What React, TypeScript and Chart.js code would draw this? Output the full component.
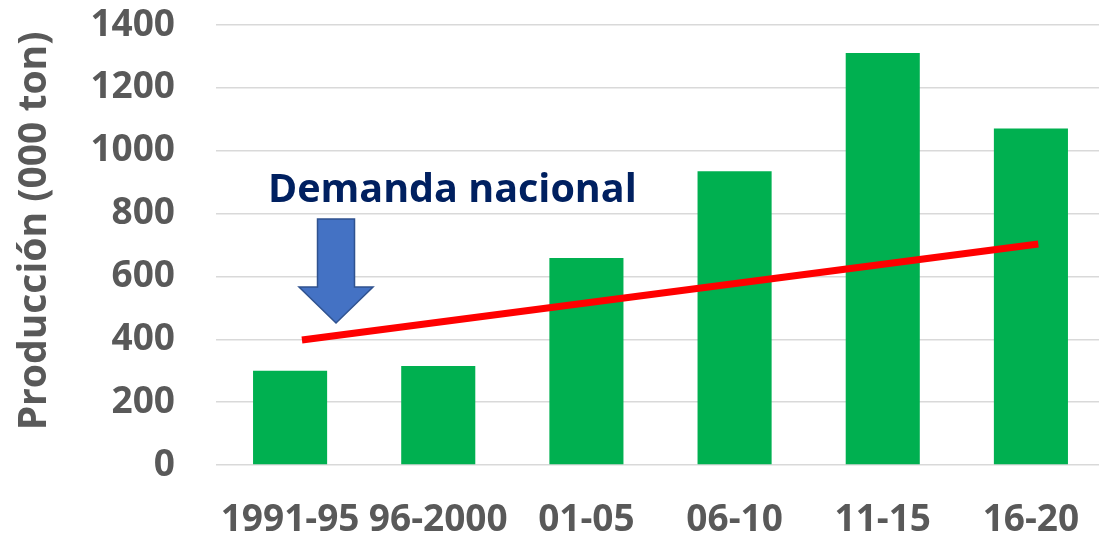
import { useEffect, useRef } from "react";
import { Chart, registerables } from "chart.js";

Chart.register(...registerables);

// ---- data ----
const categories = ["1991-95", "96-2000", "01-05", "06-10", "11-15", "16-20"];
const produccion = [300, 315, 659, 935, 1311, 1071];
// "Demanda nacional" trend line: x in category-index units, y in 000 ton
const demandaX = [0.08, 5.05];
const demandaY = [398, 703];
const yMin = 0;
const yMax = 1400;
const yStep = 200;
const yTitle = "Producción (000 ton)";
const annotationText = "Demanda nacional";
const annotationPos = { x: 1.095, y: 837 };
const arrowPos = { x: 0.31, top: 783, neck: 566, tip: 452 };

const GRAY = "#595959";
const FONT = "'Open Sans', Lato, sans-serif";

const decorPlugin = {
  id: "decor",
  afterDatasetsDraw(chart: any) {
    const { ctx } = chart;
    const xs = chart.scales.x2;
    const ys = chart.scales.y;
    ctx.save();
    // arrow
    const cx = xs.getPixelForValue(arrowPos.x);
    const top = ys.getPixelForValue(arrowPos.top);
    const neck = ys.getPixelForValue(arrowPos.neck);
    const tip = ys.getPixelForValue(arrowPos.tip);
    const bw = 18.5;
    const hw = 37;
    ctx.beginPath();
    ctx.moveTo(cx - bw, top);
    ctx.lineTo(cx + bw, top);
    ctx.lineTo(cx + bw, neck);
    ctx.lineTo(cx + hw, neck);
    ctx.lineTo(cx, tip);
    ctx.lineTo(cx - hw, neck);
    ctx.lineTo(cx - bw, neck);
    ctx.closePath();
    ctx.fillStyle = "#4472C4";
    ctx.fill();
    ctx.lineWidth = 1.5;
    ctx.strokeStyle = "#2F528F";
    ctx.stroke();
    // annotation text
    ctx.font = `bold 39.5px ${FONT}`;
    ctx.fillStyle = "#002060";
    ctx.textAlign = "center";
    ctx.textBaseline = "alphabetic";
    ctx.fillText(
      annotationText,
      xs.getPixelForValue(annotationPos.x),
      ys.getPixelForValue(annotationPos.y)
    );
    // y axis title
    ctx.translate(35, 231);
    ctx.rotate(-Math.PI / 2);
    ctx.font = `bold 39px ${FONT}`;
    ctx.fillStyle = GRAY;
    ctx.textAlign = "center";
    ctx.textBaseline = "middle";
    ctx.fillText(yTitle, 0, 0);
    ctx.restore();
  },
};

export default function App() {
  const ref = useRef<HTMLCanvasElement>(null);
  useEffect(() => {
    if (!ref.current) return;
    const chart = new Chart(ref.current, {
      type: "bar",
      data: {
        labels: categories,
        datasets: [
          {
            type: "line",
            data: demandaX.map((x, i) => ({ x, y: demandaY[i] })),
            xAxisID: "x2",
            yAxisID: "y",
            borderColor: "#FF0000",
            borderWidth: 7,
            borderCapStyle: "butt",
            pointRadius: 0,
            fill: false,
            order: 0,
          } as any,
          {
            type: "bar",
            data: produccion,
            xAxisID: "x",
            yAxisID: "y",
            backgroundColor: "#00B050",
            barPercentage: 0.5,
            categoryPercentage: 1.0,
            grouped: false,
            order: 1,
          } as any,
        ],
      },
      options: {
        responsive: false,
        animation: false,
        layout: { padding: { top: 25, right: 5, left: 0, bottom: 0 } },
        plugins: { legend: { display: false }, tooltip: { enabled: false } },
        scales: {
          x: {
            type: "category",
            offset: true,
            grid: { display: false, drawTicks: false },
            border: { display: false },
            ticks: {
              color: GRAY,
              font: { family: FONT, size: 37, weight: "bold" },
              padding: 33,
              maxRotation: 0,
              autoSkip: false,
            },
            afterFit: (s: any) => {
              s.height = 73;
              s.paddingLeft = 0;
              s.paddingRight = 0;
            },
          },
          x2: {
            type: "linear",
            display: false,
            offset: false,
            grid: { offset: false },
            bounds: "data",
            min: -0.5,
            max: 5.5,
            ticks: { stepSize: 0.5 },
          } as any,
          y: {
            min: yMin,
            max: yMax,
            ticks: {
              stepSize: yStep,
              color: GRAY,
              font: { family: FONT, size: 37, weight: "bold" },
              padding: 41,
              callback: (v: any) => String(v),
            },
            grid: { color: "#D9D9D9", lineWidth: 1.5, drawTicks: false },
            border: { display: false },
            afterFit: (s: any) => {
              s.width = 216;
              s.paddingTop = 0;
              s.paddingBottom = 0;
            },
          },
        },
      },
      plugins: [decorPlugin],
    });
    return () => chart.destroy();
  }, []);
  return (
    <div
      style={{
        position: "fixed",
        left: 0,
        top: 0,
        width: "100vw",
        height: "100vh",
        overflow: "hidden",
        background: "#fff",
      }}
    >
      <canvas ref={ref} width={1110} height={538} style={{ display: "block" }} />
    </div>
  );
}
